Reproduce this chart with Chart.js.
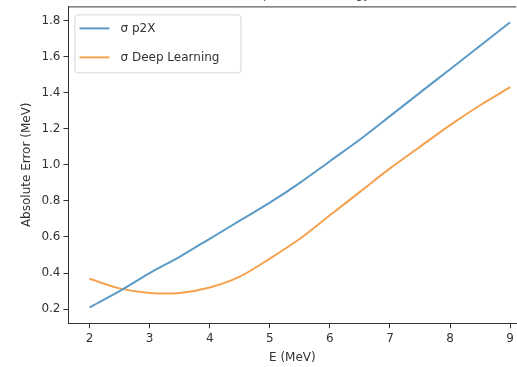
<!DOCTYPE html>
<html>
<head>
<meta charset="utf-8">
<script src="https://cdn.jsdelivr.net/npm/chart.js@4"></script>
<style>
	html, body { margin: 0; padding: 0; background: #fff; }
	#wrap { width: 517px; height: 367px; }
</style>
</head>
<body>
<div id="wrap"><canvas id="myChart"></canvas></div>
<script>
// energies (MeV) and absolute errors
const energies = [2, 2.5, 3, 3.5, 4, 4.5, 5, 5.5, 6, 6.5, 7, 7.5, 8, 8.5, 9]
const sigmaP2X = [0.21, 0.30, 0.40, 0.49, 0.59, 0.69, 0.79, 0.90, 1.02, 1.14, 1.27, 1.40, 1.53, 1.66, 1.79]
const sigmaDeep = [0.368, 0.315, 0.290, 0.290, 0.320, 0.380, 0.480, 0.590, 0.720, 0.850, 0.980, 1.100, 1.220, 1.330, 1.430]
const xTicks = [2, 3, 4, 5, 6, 7, 8, 9]
const yTicks = [0.2, 0.4, 0.6, 0.8, 1.0, 1.2, 1.4, 1.6, 1.8]

const FONT = "'DejaVu Sans', sans-serif"
const TEXT = "#333"

function toPoints(ys) {
	return energies.map((x, i) => ({ x: x, y: ys[i] }))
}

// matplotlib style legend in the upper left corner, plus the top spine
const boxLegend = {
	id: "boxLegend",
	afterDatasetsDraw(chart) {
		const ctx = chart.ctx
		const a = chart.chartArea
		ctx.save()
		ctx.strokeStyle = "#333"
		ctx.lineWidth = 1
		ctx.beginPath()
		ctx.moveTo(a.left, a.top + 0.5)
		ctx.lineTo(a.right, a.top + 0.5)
		ctx.stroke()

		const x0 = a.left + 6, y0 = a.top + 8
		const w = 166, h = 58
		ctx.fillStyle = "rgba(255,255,255,0.8)"
		ctx.strokeStyle = "#d6d6d6"
		ctx.beginPath()
		ctx.roundRect(x0 + 0.5, y0 + 0.5, w, h, 3)
		ctx.fill()
		ctx.stroke()

		ctx.font = "12px " + FONT
		ctx.textBaseline = "middle"
		chart.data.datasets.forEach((ds, i) => {
			const yy = y0 + 14 + i * 29
			ctx.strokeStyle = ds.borderColor
			ctx.lineWidth = 2
			ctx.beginPath()
			ctx.moveTo(x0 + 5, yy)
			ctx.lineTo(x0 + 35, yy)
			ctx.stroke()
			ctx.fillStyle = TEXT
			ctx.fillText(ds.label, x0 + 46, yy)
		})
		ctx.restore()
	}
}

new Chart("myChart", {
	type: "line",
	data: {
		datasets: [
			{
				label: "σ p2X",
				data: toPoints(sigmaP2X),
				borderColor: "#5b9bc6",
				borderWidth: 2,
				pointRadius: 0,
				tension: 0.3,
				fill: false
			},
			{
				label: "σ Deep Learning",
				data: toPoints(sigmaDeep),
				borderColor: "#f5a24e",
				borderWidth: 2,
				pointRadius: 0,
				tension: 0.3,
				fill: false
			}
		]
	},
	options: {
		responsive: true,
		maintainAspectRatio: false,
		animation: false,
		layout: { padding: { left: 16, right: 0, top: 0, bottom: 0 } },
		plugins: {
			legend: { display: false },
			tooltip: { enabled: false },
			title: {
				display: true,
				text: "Model Error Comparison vs Energy",
				color: "#555",
				font: { family: FONT, size: 12, weight: "normal" },
				padding: { top: -12, bottom: 4 }
			}
		},
		scales: {
			x: {
				type: "linear",
				min: 1.65,
				max: 9.1,
				afterBuildTicks: (axis) => { axis.ticks = xTicks.map(v => ({ value: v })) },
				grid: { drawOnChartArea: false, drawTicks: true, tickLength: 5, color: "#333" },
				border: { color: "#333", width: 1 },
				ticks: { color: TEXT, font: { family: FONT, size: 12 }, padding: 3, callback: (v) => v },
				title: {
					display: true,
					text: "E (MeV)",
					color: TEXT,
					font: { family: FONT, size: 12 },
					padding: { top: 2, bottom: 2 }
				}
			},
			y: {
				min: 0.122,
				max: 1.878,
				afterBuildTicks: (axis) => { axis.ticks = yTicks.map(v => ({ value: v })) },
				grid: { drawOnChartArea: false, drawTicks: true, tickLength: 5, color: "#333" },
				border: { color: "#333", width: 1 },
				ticks: { color: TEXT, font: { family: FONT, size: 12, lineHeight: 0.5 }, padding: 3, callback: (v) => v.toFixed(1) },
				title: {
					display: true,
					text: "Absolute Error (MeV)",
					color: TEXT,
					font: { family: FONT, size: 12 },
					padding: { top: 4, bottom: 4 }
				}
			}
		}
	},
	plugins: [boxLegend]
})
</script>
</body>
</html>
